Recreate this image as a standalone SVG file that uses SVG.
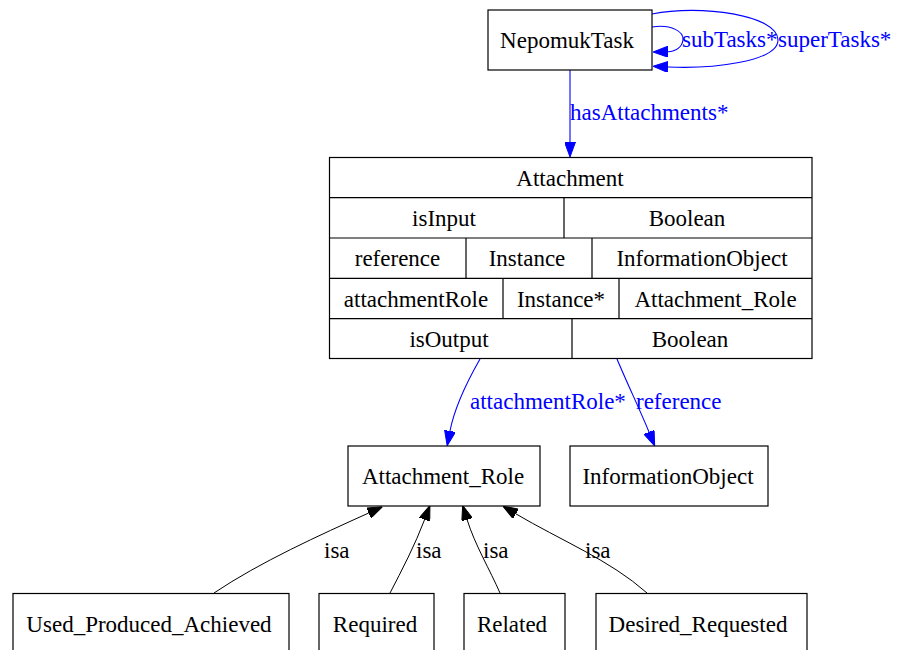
<svg xmlns="http://www.w3.org/2000/svg" width="905" height="650" viewBox="0 0 905 650">
  <style>
    .box { fill: #fff; stroke: #000; stroke-width: 1.2; }
    .sep { stroke: #000; stroke-width: 1.2; fill: none; }
    .t { font-family: "Liberation Serif", "Times New Roman", serif; font-size: 23px; fill: #000; text-anchor: middle; }
    .lb { font-family: "Liberation Serif", "Times New Roman", serif; font-size: 23px; fill: #0000ff; }
    .lk { font-family: "Liberation Serif", "Times New Roman", serif; font-size: 23px; fill: #000; }
    .eb { fill: none; stroke: #0000ff; stroke-width: 1.1; marker-end: url(#ab); }
    .ek { fill: none; stroke: #000; stroke-width: 1; marker-end: url(#ak); }
  </style>
  <defs>
    <marker id="ab" viewBox="0 0 15 11" refX="0" refY="5.5" markerWidth="15" markerHeight="11" markerUnits="userSpaceOnUse" orient="auto">
      <path d="M0,0 L15,5.5 L0,11 z" fill="#0000ff" stroke="#0000ff" stroke-width="1"/>
    </marker>
    <marker id="ak" viewBox="0 0 15 11" refX="0" refY="5.5" markerWidth="15" markerHeight="11" markerUnits="userSpaceOnUse" orient="auto">
      <path d="M0,0 L15,5.5 L0,11 z" fill="#000" stroke="#000" stroke-width="1"/>
    </marker>
  </defs>
  <rect width="905" height="650" fill="#fff"/>

  <!-- connectors -->
  <g id="edges">
    <path class="eb" d="M652,27 C672,24 684,32 683,40 C682,47 676,51.5 668,51.7"/>
    <text class="lb" x="682" y="47">subTasks*</text>
    <path class="eb" d="M652,14 C700,4 778,15 778,40 C778,62 710,69 668,67"/>
    <text class="lb" x="778" y="47">superTasks*</text>
    <path class="eb" d="M570,70 L570,142"/>
    <text class="lb" x="570" y="120">hasAttachments*</text>
    <path class="eb" d="M480,359 C468,380 455,405 450,431"/>
    <text class="lb" x="470" y="409">attachmentRole*</text>
    <path class="eb" d="M617,359 C627,383 640,410 649,432"/>
    <text class="lb" x="636" y="409">reference</text>
    <path class="ek" d="M214,593 C260,562 320,535 368.7,513"/>
    <text class="lk" x="324" y="558">isa</text>
    <path class="ek" d="M390,593 C402,570 415,545 424.6,519.6"/>
    <text class="lk" x="416" y="558">isa</text>
    <path class="ek" d="M500,593 C490,570 475,545 467.1,519.7"/>
    <text class="lk" x="483" y="558">isa</text>
    <path class="ek" d="M647,593 C610,560 560,540 515.8,513.8"/>
    <text class="lk" x="585" y="558">isa</text>
  </g>

  <g id="NepomukTask">
    <rect class="box" x="488" y="10" width="164" height="60"/>
    <text class="t" x="567" y="48">NepomukTask</text>
  </g>

  <g id="Attachment">
    <rect class="box" x="329.5" y="157.5" width="482.5" height="201"/>
    <path class="sep" d="M329.5,197.7 H812 M329.5,238 H812 M329.5,278.3 H812 M329.5,318.7 H812"/>
    <path class="sep" d="M564,197.7 V238 M466,238 V278.3 M592,238 V278.3 M503,278.3 V318.7 M619,278.3 V318.7 M572,318.7 V358.5"/>
    <text class="t" x="570" y="185.5">Attachment</text>
    <text class="t" x="444" y="225.8">isInput</text>
    <text class="t" x="687" y="225.8">Boolean</text>
    <text class="t" x="397.5" y="266">reference</text>
    <text class="t" x="527" y="266">Instance</text>
    <text class="t" x="702" y="266">InformationObject</text>
    <text class="t" x="416" y="306.5">attachmentRole</text>
    <text class="t" x="561" y="306.5">Instance*</text>
    <text class="t" x="715.5" y="306.5">Attachment_Role</text>
    <text class="t" x="449" y="346.8">isOutput</text>
    <text class="t" x="690" y="346.8">Boolean</text>
  </g>

  <g id="Attachment_Role">
    <rect class="box" x="348" y="446" width="192" height="60"/>
    <text class="t" x="443" y="484">Attachment_Role</text>
  </g>

  <g id="InformationObject">
    <rect class="box" x="570" y="446" width="198" height="60"/>
    <text class="t" x="668" y="484">InformationObject</text>
  </g>

  <g id="Used_Produced_Achieved">
    <rect class="box" x="13" y="593.5" width="276" height="60"/>
    <text class="t" x="149" y="631.5">Used_Produced_Achieved</text>
  </g>

  <g id="Required">
    <rect class="box" x="319" y="593.5" width="115" height="60"/>
    <text class="t" x="375" y="631.5">Required</text>
  </g>

  <g id="Related">
    <rect class="box" x="464" y="593.5" width="101" height="60"/>
    <text class="t" x="512" y="631.5">Related</text>
  </g>

  <g id="Desired_Requested">
    <rect class="box" x="596" y="593.5" width="211" height="60"/>
    <text class="t" x="698" y="631.5">Desired_Requested</text>
  </g>
</svg>
